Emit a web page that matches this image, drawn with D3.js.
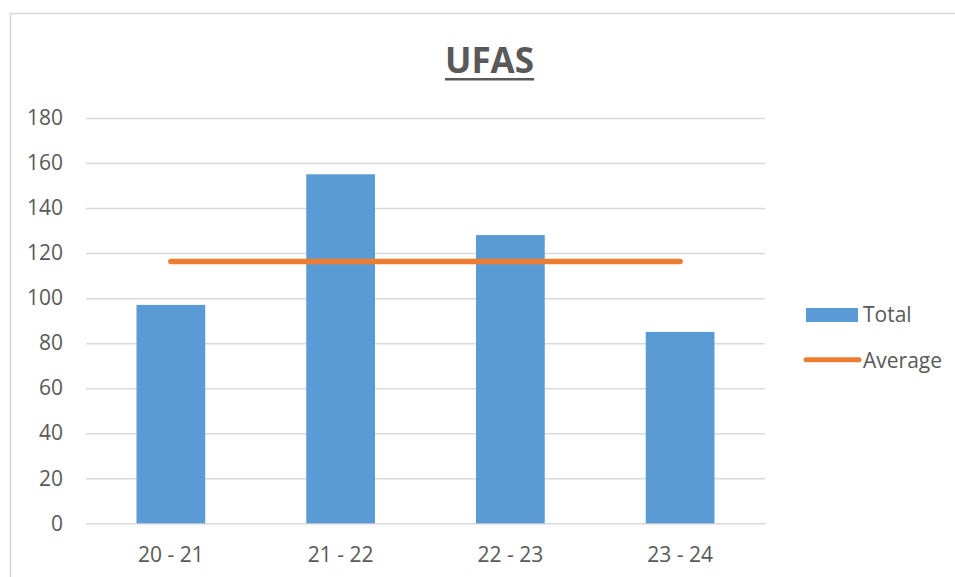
<!DOCTYPE html>
<html>
<head>
<meta charset="utf-8">
<script src="https://cdn.jsdelivr.net/npm/d3@7"></script>
<style>
  body { margin: 0; background: #fff; }
  text { font-family: "Open Sans", sans-serif; fill: #595959; }
</style>
</head>
<body>
<div class="chart"></div>
<script>
const categories = ["20 - 21", "21 - 22", "22 - 23", "23 - 24"];
const totals = [97, 155, 128, 85];
const averages = [116.25, 116.25, 116.25, 116.25];
const yTicks = [0, 20, 40, 60, 80, 100, 120, 140, 160, 180];
const seriesNames = ["Total", "Average"];

const width = 955;
const height = 577;
const margin = {top: 118, bottom: 53.7, left: 86, right: 190};

const blue = "#5B9BD5";
const orange = "#ED7D31";
const grid = "#D9D9D9";

const svg = d3.select(".chart")
  .append("svg")
  .attr("width", width)
  .attr("height", height);

// outer chart border (runs off right and bottom)
svg.append("rect")
  .attr("x", 10.5)
  .attr("y", 13.5)
  .attr("width", width)
  .attr("height", height)
  .attr("fill", "none")
  .attr("stroke", grid)
  .attr("stroke-width", 1.5);

const x = d3.scaleBand()
  .domain(categories)
  .range([margin.left, width - margin.right])
  .padding(0);

const y = d3.scaleLinear()
  .domain([0, 180])
  .range([height - margin.bottom, margin.top]);

const barWidth = x.bandwidth() * 0.405;

// gridlines + y labels
svg.append("g")
  .attr("transform", `translate(${margin.left},0)`)
  .call(d3.axisLeft(y)
    .tickValues(yTicks)
    .tickSize(-(width - margin.left - margin.right))
    .tickPadding(23))
  .call(g => g.select(".domain").remove())
  .call(g => g.selectAll(".tick line").attr("stroke", grid).attr("stroke-width", 1.5))
  .call(g => g.selectAll(".tick text")
    .attr("font-size", 21)
    .attr("font-family", "Open Sans")
    .attr("fill", "#595959"));

// bars
svg.append("g")
  .attr("fill", blue)
  .selectAll("rect")
  .data(totals)
  .join("rect")
  .attr("x", (d, i) => x(categories[i]) + (x.bandwidth() - barWidth) / 2)
  .attr("y", d => y(d))
  .attr("width", barWidth)
  .attr("height", d => y(0) - y(d));

// x axis labels
svg.append("g")
  .attr("transform", `translate(0,${y(0)})`)
  .call(d3.axisBottom(x).tickSize(0).tickPadding(23.5))
  .call(g => g.select(".domain").remove())
  .call(g => g.selectAll(".tick text")
    .attr("font-size", 21)
    .attr("font-family", "Open Sans")
    .attr("fill", "#595959"));

// average line
const line = d3.line()
  .x((d, i) => x(categories[i]) + x.bandwidth() / 2)
  .y(d => y(d));

svg.append("path")
  .datum(averages)
  .attr("d", line)
  .attr("fill", "none")
  .attr("stroke", orange)
  .attr("stroke-width", 5.5)
  .attr("stroke-linecap", "round");

// title
const title = svg.append("text")
  .attr("x", 489.5)
  .attr("y", 72.5)
  .attr("text-anchor", "middle")
  .attr("font-size", 35)
  .attr("font-weight", "bold")
  .attr("fill", "#595959")
  .text("UFAS");

const tb = title.node().getBBox();
svg.append("rect")
  .attr("x", tb.x)
  .attr("y", 78)
  .attr("width", tb.width)
  .attr("height", 2.5)
  .attr("fill", "#595959");

// legend
const legend = svg.append("g");

legend.append("rect")
  .attr("x", 806)
  .attr("y", 308)
  .attr("width", 52)
  .attr("height", 14)
  .attr("fill", blue);

legend.append("line")
  .attr("x1", 806)
  .attr("x2", 859)
  .attr("y1", 359.7)
  .attr("y2", 359.7)
  .attr("stroke", orange)
  .attr("stroke-width", 5)
  .attr("stroke-linecap", "round");

legend.selectAll("text")
  .data(seriesNames)
  .join("text")
  .attr("x", 863)
  .attr("y", (d, i) => [322, 367.5][i])
  .attr("font-size", 21)
  .text(d => d);
</script>
</body>
</html>
